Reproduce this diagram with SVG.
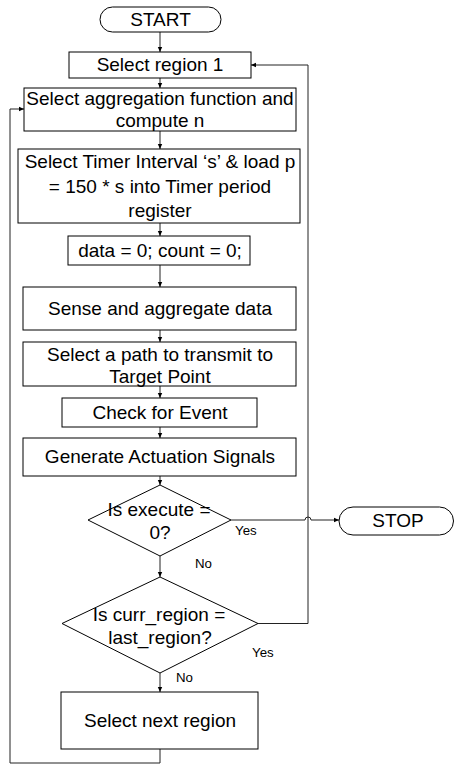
<svg xmlns="http://www.w3.org/2000/svg" width="454" height="764" viewBox="0 0 454 764">
<defs>
<marker id="ah" markerUnits="userSpaceOnUse" markerWidth="6" markerHeight="6" refX="5" refY="3" orient="auto">
<path d="M0,0.8 L5,3 L0,5.2 Z" fill="#000"/>
</marker>
<style>
.b{fill:#fff;stroke:#000;stroke-width:1}
.t{font-family:"Liberation Sans",Arial,sans-serif;font-size:19px;text-anchor:middle;fill:#000}
.s{font-family:"Liberation Sans",Arial,sans-serif;font-size:13.3px;fill:#000}
.c{fill:none;stroke:#222;stroke-width:1}
</style>
</defs>
<rect width="454" height="764" fill="#fff"/>
<g id="connectors">
<path class="c" d="M160,32 V52" marker-end="url(#ah)"/>
<path class="c" d="M160,78 V88" marker-end="url(#ah)"/>
<path class="c" d="M160,131 V149" marker-end="url(#ah)"/>
<path class="c" d="M160,223 V236" marker-end="url(#ah)"/>
<path class="c" d="M160,265 V287" marker-end="url(#ah)"/>
<path class="c" d="M160,330 V342" marker-end="url(#ah)"/>
<path class="c" d="M160,386 V398" marker-end="url(#ah)"/>
<path class="c" d="M160,427 V438" marker-end="url(#ah)"/>
<path class="c" d="M160,476 V485" marker-end="url(#ah)"/>
<path class="c" d="M160,556 V577" marker-end="url(#ah)"/>
<path class="c" d="M160,673 V692" marker-end="url(#ah)"/>
<path class="c" d="M160,749 V763 H10 V109 H24" marker-end="url(#ah)"/>
<path class="c" d="M258,623.5 H308 V65 H251" marker-end="url(#ah)"/>
<path class="c" d="M231,520 H305 A3,3 0 0 1 311,520 H339" marker-end="url(#ah)"/>
</g>
<g id="start">
<rect class="b" x="100" y="7" width="121" height="25" rx="12.5"/>
<text class="t" x="160.5" y="26">START</text>
</g>
<g id="region1">
<rect class="b" x="69" y="52" width="182" height="26"/>
<text class="t" x="160" y="71">Select region 1</text>
</g>
<g id="aggregation">
<rect class="b" x="24" y="88" width="272" height="43"/>
<text class="t" x="160" y="105">Select aggregation function and</text>
<text class="t" x="160" y="127">compute n</text>
</g>
<g id="timer">
<rect class="b" x="18" y="149" width="282" height="74"/>
<text class="t" x="160" y="168">Select Timer Interval ‘s’ &amp; load p</text>
<text class="t" x="160" y="193">= 150 * s into Timer period</text>
<text class="t" x="160" y="217">register</text>
</g>
<g id="init">
<rect class="b" x="68" y="236" width="182" height="29"/>
<text class="t" x="160" y="257">data = 0; count = 0;</text>
</g>
<g id="sense">
<rect class="b" x="23" y="287" width="273" height="43"/>
<text class="t" x="160" y="315">Sense and aggregate data</text>
</g>
<g id="path">
<rect class="b" x="23" y="342" width="273" height="44"/>
<text class="t" x="160" y="361">Select a path to transmit to</text>
<text class="t" x="160" y="383">Target Point</text>
</g>
<g id="check">
<rect class="b" x="62" y="398" width="195" height="29"/>
<text class="t" x="160" y="419">Check for Event</text>
</g>
<g id="generate">
<rect class="b" x="23" y="438" width="273" height="38"/>
<text class="t" x="160" y="463">Generate Actuation Signals</text>
</g>
<g id="decision1">
<path class="b" d="M160,485 L231,520 L160,556 L88,520 Z"/>
<text class="t" x="159" y="516">Is execute =</text>
<text class="t" x="160" y="539">0?</text>
<text class="s" x="235" y="535">Yes</text>
<text class="s" x="195" y="568">No</text>
</g>
<g id="stop">
<rect class="b" x="339" y="507" width="114.5" height="28" rx="14"/>
<text class="t" x="398" y="527">STOP</text>
</g>
<g id="decision2">
<path class="b" d="M160,577 L258,623.5 L160,673 L62,623.5 Z"/>
<text class="t" x="159" y="621">Is curr_region =</text>
<text class="t" x="160" y="644">last_region?</text>
<text class="s" x="252" y="657">Yes</text>
<text class="s" x="176" y="682">No</text>
</g>
<g id="next">
<rect class="b" x="61" y="692" width="197" height="57"/>
<text class="t" x="160" y="727">Select next region</text>
</g>
</svg>
